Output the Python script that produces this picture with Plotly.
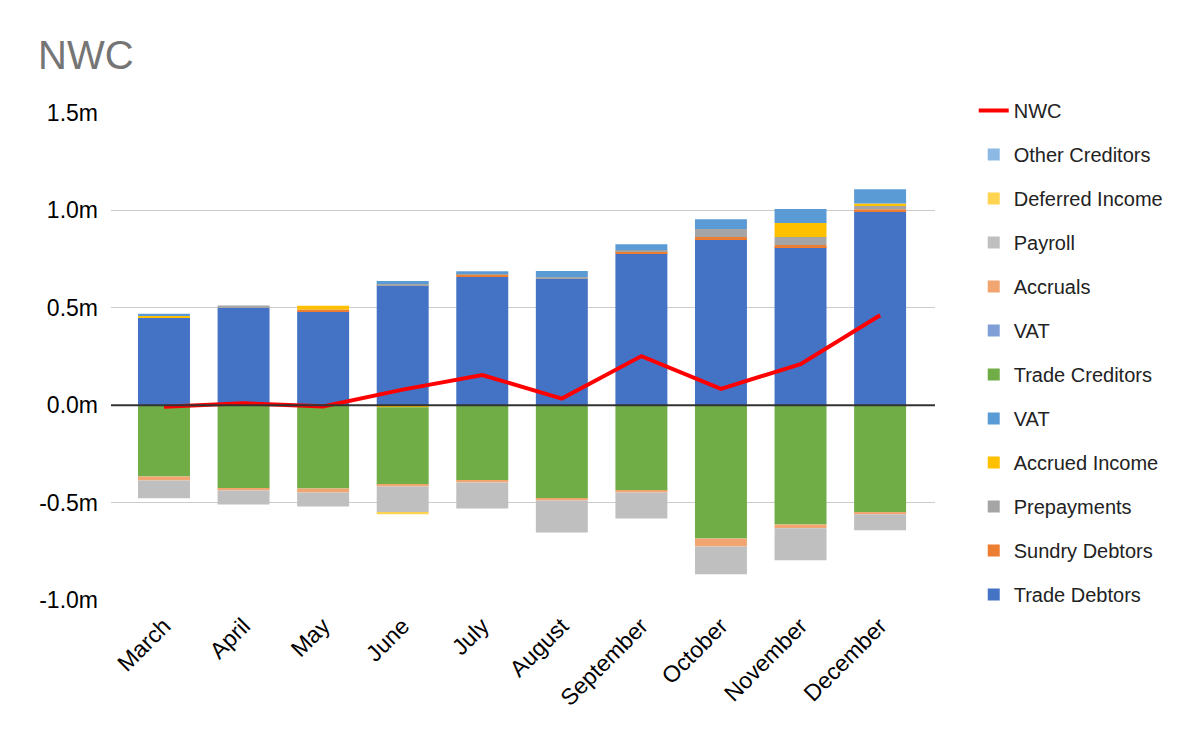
import plotly.graph_objects as go

months = ["March", "April", "May", "June", "July", "August",
          "September", "October", "November", "December"]

# values in millions
trade_debtors   = [0.450, 0.502, 0.481, 0.617, 0.658, 0.648, 0.781, 0.853, 0.812, 0.996]
sundry_debtors  = [0.000, 0.000, 0.010, 0.000, 0.015, 0.000, 0.010, 0.010, 0.010, 0.010]
prepayments     = [0.000, 0.010, 0.000, 0.010, 0.005, 0.010, 0.005, 0.041, 0.041, 0.020]
accrued_income  = [0.010, 0.000, 0.020, -0.010, 0.000, 0.000, 0.000, 0.000, 0.072, 0.010]
vat_debtor      = [0.010, 0.000, 0.000, 0.010, 0.010, 0.031, 0.030, 0.051, 0.072, 0.072]
trade_creditors = [-0.366, -0.428, -0.428, -0.397, -0.387, -0.479, -0.438, -0.684, -0.612, -0.550]
vat_creditor    = [0.0, 0.0, 0.0, 0.0, 0.0, 0.0, 0.0, 0.0, 0.0, 0.0]
accruals        = [-0.020, -0.010, -0.020, -0.010, -0.010, -0.010, -0.010, -0.041, -0.020, -0.010]
payroll         = [-0.092, -0.072, -0.072, -0.133, -0.133, -0.164, -0.133, -0.143, -0.164, -0.082]
deferred_income = [0.0, 0.0, 0.0, -0.010, 0.0, 0.0, 0.0, 0.0, 0.0, 0.0]
other_creditors = [0.0, 0.0, 0.0, 0.0, 0.0, 0.0, 0.0, 0.0, 0.0, 0.0]
nwc             = [-0.008, 0.010, -0.006, 0.080, 0.155, 0.034, 0.252, 0.084, 0.211, 0.462]

tick_vals = [1.5, 1.0, 0.5, 0.0, -0.5, -1.0]
tick_text = ["1.5m", "1.0m", "0.5m", "0.0m", "-0.5m", "-1.0m"]

series = [
    ("Trade Debtors", trade_debtors, "#4472c4"),
    ("Sundry Debtors", sundry_debtors, "#ed7d31"),
    ("Prepayments", prepayments, "#a5a5a5"),
    ("Accrued Income", accrued_income, "#ffc000"),
    ("VAT", vat_debtor, "#5b9bd5"),
    ("Trade Creditors", trade_creditors, "#70ad47"),
    ("VAT", vat_creditor, "#7f9fd6"),
    ("Accruals", accruals, "#f1a570"),
    ("Payroll", payroll, "#bfbfbf"),
    ("Deferred Income", deferred_income, "#ffd451"),
    ("Other Creditors", other_creditors, "#8cb9e3"),
]

fig = go.Figure()
for i, (name, vals, color) in enumerate(series):
    fig.add_trace(go.Bar(x=months, y=vals, name=name, marker_color=color,
                         marker_line_width=0, legendgroup="g%d" % i,
                         legendrank=1000 - i))

fig.add_trace(go.Scatter(x=months, y=nwc, name="NWC", mode="lines",
                         line=dict(color="#ff0000", width=4), legendgroup="nwc",
                         legendrank=1))

FONT = "Liberation Sans, Arial, sans-serif"

fig.update_layout(
    width=1200, height=742,
    barmode="relative",
    bargap=0.347,
    plot_bgcolor="white",
    paper_bgcolor="white",
    margin=dict(l=103, r=273, t=105, b=150),
    title=dict(text="NWC", x=30 / 1200, xanchor="left", y=1 - 47 / 742, yanchor="middle",
               font=dict(family=FONT, size=40, color="#757575")),
    font=dict(family=FONT, color="#000000"),
    legend=dict(x=1.047, xanchor="left", y=1.045, yanchor="top",
                traceorder="grouped", tracegroupgap=15, maxheight=700,
                font=dict(family=FONT, size=20, color="#222222"),
                bgcolor="rgba(0,0,0,0)"),
    xaxis=dict(range=[-0.666, 9.69], showgrid=False, zeroline=False,
               tickangle=-45, tickfont=dict(family=FONT, size=23, color="#000000"),
               ticks="", showline=False, ticklabelstandoff=7),
    yaxis=dict(range=[-1.0, 1.5], tickvals=tick_vals, ticktext=tick_text,
               showgrid=True, gridcolor="#cccccc", gridwidth=1,
               zeroline=False, ticks="", ticklen=0, ticklabelstandoff=12,
               tickfont=dict(family=FONT, size=23, color="#000000")),
    shapes=[dict(type="line", xref="paper", yref="y", x0=0, x1=1, y0=0, y1=0,
                 line=dict(color="#333333", width=2), layer="above")],
)

fig.write_html("out.html")
